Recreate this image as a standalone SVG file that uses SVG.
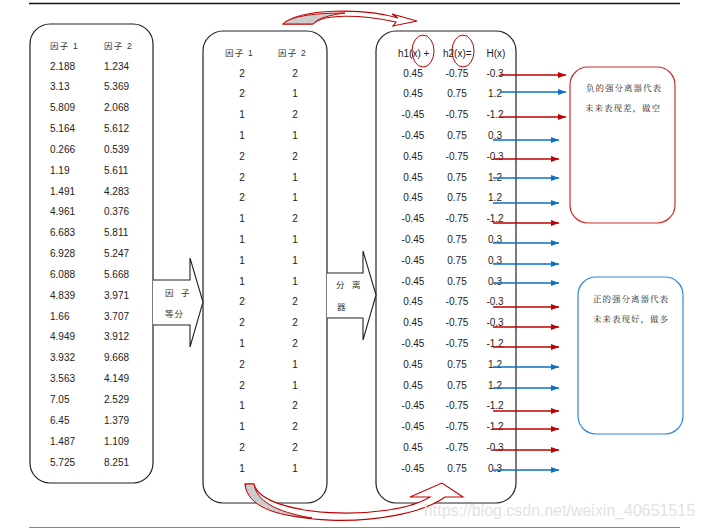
<svg xmlns="http://www.w3.org/2000/svg" width="705" height="529" viewBox="0 0 705 529">
<defs>
<style>
.box{fill:#fff;stroke:#222;stroke-width:1.2}
.num{font-family:"Liberation Sans",Arial,sans-serif;font-size:10px;fill:#222}
.c{text-anchor:middle}
.cjk{font-family:"Liberation Sans","Noto Sans CJK SC",sans-serif;font-size:8.5px;fill:#333;letter-spacing:1.2px}
.note{font-family:"Noto Serif CJK SC","Noto Sans CJK SC",serif;font-size:8.5px;fill:#222;letter-spacing:1px}
.red{stroke:#C00000;stroke-width:1.5;fill:none}
.blue{stroke:#0B6FC4;stroke-width:1.5;fill:none}
.blk{fill:#fff;stroke:#222;stroke-width:1.1}
.curve{fill:#fff;stroke:#C00000;stroke-width:1.1}
</style>
<marker id="mr" markerUnits="userSpaceOnUse" markerWidth="8" markerHeight="6" refX="8" refY="3" orient="auto"><path d="M0,0 L8,3 L0,6 z" fill="#C00000"/></marker>
<marker id="mb" markerUnits="userSpaceOnUse" markerWidth="8" markerHeight="6" refX="8" refY="3" orient="auto"><path d="M0,0 L8,3 L0,6 z" fill="#0B6FC4"/></marker>
</defs>
<rect width="705" height="529" fill="#fff"/>
<line x1="29" y1="3.5" x2="680" y2="3.5" stroke="#111" stroke-width="1.5"/>
<line x1="29" y1="527.5" x2="680" y2="527.5" stroke="#888" stroke-width="1.2"/>

<g id="table1">
<rect class="box" x="30" y="24" width="123" height="459" rx="20"/>
<text class="cjk" x="50" y="48.5">因子 1</text>
<text class="cjk" x="104" y="48.5">因子 2</text>
<g class="num">
<text x="50" y="69.5">2.188</text><text x="104" y="69.5">1.234</text>
<text x="50" y="90.3">3.13</text><text x="104" y="90.3">5.369</text>
<text x="50" y="111.2">5.809</text><text x="104" y="111.2">2.068</text>
<text x="50" y="132">5.164</text><text x="104" y="132">5.612</text>
<text x="50" y="152.9">0.266</text><text x="104" y="152.9">0.539</text>
<text x="50" y="173.7">1.19</text><text x="104" y="173.7">5.611</text>
<text x="50" y="194.5">1.491</text><text x="104" y="194.5">4.283</text>
<text x="50" y="215.4">4.961</text><text x="104" y="215.4">0.376</text>
<text x="50" y="236.2">6.683</text><text x="104" y="236.2">5.811</text>
<text x="50" y="257.1">6.928</text><text x="104" y="257.1">5.247</text>
<text x="50" y="277.9">6.088</text><text x="104" y="277.9">5.668</text>
<text x="50" y="298.7">4.839</text><text x="104" y="298.7">3.971</text>
<text x="50" y="319.6">1.66</text><text x="104" y="319.6">3.707</text>
<text x="50" y="340.4">4.949</text><text x="104" y="340.4">3.912</text>
<text x="50" y="361.3">3.932</text><text x="104" y="361.3">9.668</text>
<text x="50" y="382.1">3.563</text><text x="104" y="382.1">4.149</text>
<text x="50" y="402.9">7.05</text><text x="104" y="402.9">2.529</text>
<text x="50" y="423.8">6.45</text><text x="104" y="423.8">1.379</text>
<text x="50" y="444.6">1.487</text><text x="104" y="444.6">1.109</text>
<text x="50" y="465.5">5.725</text><text x="104" y="465.5">8.251</text>
</g>
</g>

<g id="table2">
<rect class="box" x="203" y="31" width="124" height="472" rx="20"/>
<text class="cjk" x="225" y="55.5">因子 1</text>
<text class="cjk" x="278" y="55.5">因子 2</text>
<g class="num c">
<text x="242" y="76.5">2</text><text x="295" y="76.5">2</text>
<text x="242" y="97.3">2</text><text x="295" y="97.3">1</text>
<text x="242" y="118.1">1</text><text x="295" y="118.1">2</text>
<text x="242" y="138.9">1</text><text x="295" y="138.9">1</text>
<text x="242" y="159.7">2</text><text x="295" y="159.7">2</text>
<text x="242" y="180.5">2</text><text x="295" y="180.5">1</text>
<text x="242" y="201.3">2</text><text x="295" y="201.3">1</text>
<text x="242" y="222.1">1</text><text x="295" y="222.1">2</text>
<text x="242" y="242.9">1</text><text x="295" y="242.9">1</text>
<text x="242" y="263.7">1</text><text x="295" y="263.7">1</text>
<text x="242" y="284.5">1</text><text x="295" y="284.5">1</text>
<text x="242" y="305.3">2</text><text x="295" y="305.3">2</text>
<text x="242" y="326.1">2</text><text x="295" y="326.1">2</text>
<text x="242" y="346.9">1</text><text x="295" y="346.9">2</text>
<text x="242" y="367.7">2</text><text x="295" y="367.7">1</text>
<text x="242" y="388.5">2</text><text x="295" y="388.5">1</text>
<text x="242" y="409.3">1</text><text x="295" y="409.3">2</text>
<text x="242" y="430.1">1</text><text x="295" y="430.1">2</text>
<text x="242" y="450.9">2</text><text x="295" y="450.9">2</text>
<text x="242" y="471.7">1</text><text x="295" y="471.7">1</text>
</g>
</g>

<g id="table3">
<rect class="box" x="376" y="31" width="140" height="472" rx="20"/>
<text class="num" x="398" y="56.5">h1(x) +</text>
<text class="num" x="443" y="56.5">h2(x)=</text>
<text class="num c" x="496" y="56.5">H(x)</text>
<ellipse cx="423" cy="51" rx="11" ry="16" fill="none" stroke="#C00000" stroke-width="1"/>
<ellipse cx="463" cy="51" rx="11" ry="16" fill="none" stroke="#C00000" stroke-width="1"/>
<g class="num c">
<text x="413" y="76.5">0.45</text><text x="457" y="76.5">-0.75</text><text x="495" y="76.5">-0.3</text>
<text x="413" y="97.3">0.45</text><text x="457" y="97.3">0.75</text><text x="495" y="97.3">1.2</text>
<text x="413" y="118.1">-0.45</text><text x="457" y="118.1">-0.75</text><text x="495" y="118.1">-1.2</text>
<text x="413" y="138.9">-0.45</text><text x="457" y="138.9">0.75</text><text x="495" y="138.9">0.3</text>
<text x="413" y="159.7">0.45</text><text x="457" y="159.7">-0.75</text><text x="495" y="159.7">-0.3</text>
<text x="413" y="180.5">0.45</text><text x="457" y="180.5">0.75</text><text x="495" y="180.5">1.2</text>
<text x="413" y="201.3">0.45</text><text x="457" y="201.3">0.75</text><text x="495" y="201.3">1.2</text>
<text x="413" y="222.1">-0.45</text><text x="457" y="222.1">-0.75</text><text x="495" y="222.1">-1.2</text>
<text x="413" y="242.9">-0.45</text><text x="457" y="242.9">0.75</text><text x="495" y="242.9">0.3</text>
<text x="413" y="263.7">-0.45</text><text x="457" y="263.7">0.75</text><text x="495" y="263.7">0.3</text>
<text x="413" y="284.5">-0.45</text><text x="457" y="284.5">0.75</text><text x="495" y="284.5">0.3</text>
<text x="413" y="305.3">0.45</text><text x="457" y="305.3">-0.75</text><text x="495" y="305.3">-0.3</text>
<text x="413" y="326.1">0.45</text><text x="457" y="326.1">-0.75</text><text x="495" y="326.1">-0.3</text>
<text x="413" y="346.9">-0.45</text><text x="457" y="346.9">-0.75</text><text x="495" y="346.9">-1.2</text>
<text x="413" y="367.7">0.45</text><text x="457" y="367.7">0.75</text><text x="495" y="367.7">1.2</text>
<text x="413" y="388.5">0.45</text><text x="457" y="388.5">0.75</text><text x="495" y="388.5">1.2</text>
<text x="413" y="409.3">-0.45</text><text x="457" y="409.3">-0.75</text><text x="495" y="409.3">-1.2</text>
<text x="413" y="430.1">-0.45</text><text x="457" y="430.1">-0.75</text><text x="495" y="430.1">-1.2</text>
<text x="413" y="450.9">0.45</text><text x="457" y="450.9">-0.75</text><text x="495" y="450.9">-0.3</text>
<text x="413" y="471.7">-0.45</text><text x="457" y="471.7">0.75</text><text x="495" y="471.7">0.3</text>
</g>
</g>

<g id="note-negative">
<rect x="570" y="67" width="105" height="156" rx="18" fill="#fff" stroke="#D02A2A" stroke-width="1.2"/>
<text class="note" x="586" y="90.5">负的强分离器代表</text>
<text class="note" x="585" y="111">未来表现差，做空</text>
</g>

<g id="note-positive">
<rect x="578" y="277" width="105" height="157" rx="18" fill="#fff" stroke="#2F86D8" stroke-width="1.2"/>
<text class="note" x="593" y="302">正的强分离器代表</text>
<text class="note" x="593" y="322">未来表现好，做多</text>
</g>

<g id="arrow-factor">
<path class="blk" d="M153,280 H190 V258 L203,302 L190,347 V325 H153"/>
<text class="cjk" x="165 174 181" y="296">因 子</text>
<text class="cjk" x="165" y="317" style="letter-spacing:1px">等分</text>
</g>

<g id="arrow-separator">
<path class="blk" d="M327,273 H363 V251 L376,295 L363,340 V318 H327"/>
<text class="cjk" x="336 345 352" y="288">分 离</text>
<text class="cjk" x="337" y="310">器</text>
</g>

<g id="connectors">
<path class="curve" d="M283,24 C300,8 365,8 398,18 L392,14 L417,21 L393,26 L396,22 C360,14 322,14 313,24 Z"/>
<path d="M283,24 L313,24 C318,18 330,15 345,13 C310,13 290,17 283,24 Z" fill="#ccc" stroke="#C00000" stroke-width="1"/>
<path class="curve" d="M245,484 C250,530 400,530 445,497 L463,497 L442,483 L410,497 L430,497 C390,522 262,518 254,484 Z"/>
<path d="M245,484 L254,484 C256,500 275,512 312,518 C275,516 247,506 245,484 Z" fill="#ccc" stroke="#C00000" stroke-width="1"/>
<line class="red" x1="500" y1="75" x2="566" y2="75" marker-end="url(#mr)"/>
<line class="blue" x1="500" y1="92" x2="566" y2="92" marker-end="url(#mb)"/>
<line class="red" x1="500" y1="117" x2="566" y2="117" marker-end="url(#mr)"/>
<line class="blue" x1="493" y1="140" x2="559" y2="140" marker-end="url(#mb)"/>
<line class="red" x1="493" y1="159" x2="559" y2="159" marker-end="url(#mr)"/>
<line class="blue" x1="493" y1="178" x2="559" y2="178" marker-end="url(#mb)"/>
<line class="blue" x1="493" y1="203" x2="559" y2="203" marker-end="url(#mb)"/>
<line class="red" x1="493" y1="223" x2="559" y2="223" marker-end="url(#mr)"/>
<line class="blue" x1="493" y1="243" x2="559" y2="243" marker-end="url(#mb)"/>
<line class="blue" x1="493" y1="264" x2="559" y2="264" marker-end="url(#mb)"/>
<line class="blue" x1="493" y1="283" x2="559" y2="283" marker-end="url(#mb)"/>
<line class="red" x1="493" y1="307" x2="559" y2="307" marker-end="url(#mr)"/>
<line class="red" x1="493" y1="327" x2="559" y2="327" marker-end="url(#mr)"/>
<line class="red" x1="493" y1="347" x2="559" y2="347" marker-end="url(#mr)"/>
<line class="blue" x1="493" y1="367" x2="559" y2="367" marker-end="url(#mb)"/>
<line class="blue" x1="493" y1="388" x2="559" y2="388" marker-end="url(#mb)"/>
<line class="red" x1="493" y1="411" x2="559" y2="411" marker-end="url(#mr)"/>
<line class="red" x1="493" y1="429" x2="559" y2="429" marker-end="url(#mr)"/>
<line class="red" x1="493" y1="450" x2="559" y2="450" marker-end="url(#mr)"/>
<line class="blue" x1="493" y1="470" x2="559" y2="470" marker-end="url(#mb)"/>
</g>

<text x="424" y="516" font-family="Liberation Sans,Arial,sans-serif" font-size="16" fill="#e2e2e2" textLength="271" lengthAdjust="spacingAndGlyphs">https://blog.csdn.net/weixin_40651515</text>
</svg>
